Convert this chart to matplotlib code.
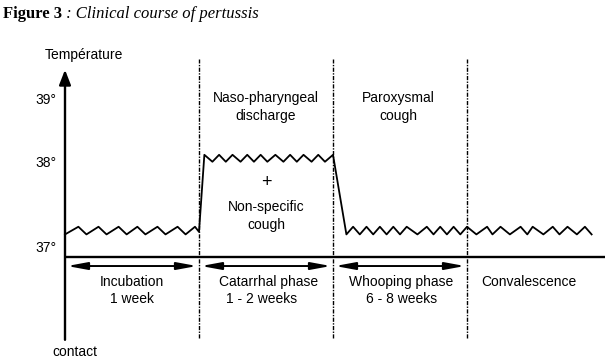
import numpy as np
import matplotlib.pyplot as plt

# Courbe de température (x : 1 unité = une phase, 0 = contact)
incub_x = [0.00, 0.10, 0.16, 0.25, 0.31, 0.40, 0.46, 0.54, 0.60, 0.69, 0.75, 0.84, 0.90, 0.97, 1.00]
incub_t = [37.16, 37.25, 37.16, 37.25, 37.16, 37.25, 37.16, 37.25, 37.16, 37.25, 37.16, 37.25, 37.16, 37.25, 37.19]

catarrh_x = [1.04, 1.10, 1.15, 1.20, 1.25, 1.31, 1.36, 1.41, 1.46, 1.51, 1.57, 1.63,
             1.68, 1.73, 1.78, 1.84, 1.89, 1.94, 2.00]
catarrh_t = [38.13, 38.02, 38.13, 38.02, 38.13, 38.02, 38.13, 38.02, 38.13, 38.02, 38.13, 38.02,
             38.13, 38.02, 38.13, 38.02, 38.13, 38.02, 38.13]

whoop_x = [2.10, 2.15, 2.20, 2.25, 2.30, 2.35, 2.40, 2.45, 2.50, 2.55, 2.63, 2.70, 2.75, 2.80,
           2.85, 2.90, 2.95, 3.00, 3.07, 3.15, 3.19, 3.25, 3.32, 3.40, 3.45, 3.49, 3.57, 3.64,
           3.69, 3.75, 3.82, 3.88, 3.93]
whoop_t = [37.16, 37.25] * 16 + [37.16]

# Phases
phase_bounds = [0, 1, 2, 3]
phase_names = ["Incubation", "Catarrhal phase", "Whooping phase", "Convalescence"]
phase_durations = ["1 week", "1 - 2 weeks", "6 - 8 weeks", ""]
phase_x = [0.50, 1.52, 2.51, 3.46]
duration_x = [0.50, 1.47, 2.51, 3.46]

temp_ticks = [37, 38, 39]
temp_labels = ["37°", "38°", "39°"]

# échelle verticale du schéma (pas tout à fait linéaire)
ref_t = [30, 37, 38, 39, 45]
ref_v = [-843, -248, -163, -100, 278]


def fwd(t):
    return np.interp(t, ref_t, ref_v)


def inv(v):
    return np.interp(v, ref_v, ref_t)


sans = ["Liberation Sans", "DejaVu Sans"]
serif = ["Liberation Serif", "DejaVu Serif"]
fs = 10

fig = plt.figure(figsize=(6.05, 3.6), dpi=100)
ax = fig.add_axes([0, 0, 1, 1])
ax.set_yscale("function", functions=(fwd, inv))
ax.set_xlim(-65 / 134, 540 / 134)
ax.set_ylim(inv(-360), inv(0))
ax.set_axis_off()

# axes
ax.annotate("", xy=(0, 39.48), xytext=(0, 35.92),
            arrowprops=dict(arrowstyle="-|>,head_length=0.9,head_width=0.35",
                            lw=1.7, color="k", shrinkA=0, shrinkB=0, mutation_scale=10))
ax.plot([0, 4.1], [36.894, 36.894], color="k", lw=1.7, solid_capstyle="butt")

# séparations des phases
for b in phase_bounds[1:]:
    ax.plot([b, b], [35.94, 39.65], color="k", lw=1.0, linestyle=(0, (3, 1, 1, 1)))

# flèches de durée
for a, b in zip(phase_bounds[:-1], phase_bounds[1:]):
    ax.annotate("", xy=(b, 36.788), xytext=(a, 36.788),
                arrowprops=dict(arrowstyle="<|-|>,head_length=1.2,head_width=0.22",
                                lw=1.4, color="k", shrinkA=1.5, shrinkB=1.5, mutation_scale=10))

# courbe
curve_x = incub_x + catarrh_x + whoop_x
curve_t = incub_t + catarrh_t + whoop_t
ax.plot(curve_x, curve_t, color="k", lw=1.3)

# textes
for t, lab in zip(temp_ticks, temp_labels):
    ax.text(-0.065, t, lab, ha="right", va="center", fontsize=fs, family=sans)
ax.text(0.14, 39.71, "Température", ha="center", va="center", fontsize=fs, family=sans)
ax.text(0.075, 35.78, "contact", ha="center", va="center", fontsize=fs, family=sans)

for x, name in zip(phase_x, phase_names):
    ax.text(x, 36.6, name, ha="center", va="center", fontsize=fs, family=sans)
for x, d in zip(duration_x, phase_durations):
    ax.text(x, 36.4, d, ha="center", va="center", fontsize=fs, family=sans)

ax.text(1.5, 39.03, "Naso-pharyngeal", ha="center", va="center", fontsize=fs, family=sans)
ax.text(1.5, 38.746, "discharge", ha="center", va="center", fontsize=fs, family=sans)
ax.text(1.5, 37.765, "+", ha="center", va="center", fontsize=13, family=sans)
ax.text(1.5, 37.482, "Non-specific", ha="center", va="center", fontsize=fs, family=sans)
ax.text(1.5, 37.27, "cough", ha="center", va="center", fontsize=fs, family=sans)
ax.text(2.49, 39.03, "Paroxysmal", ha="center", va="center", fontsize=fs, family=sans)
ax.text(2.49, 38.746, "cough", ha="center", va="center", fontsize=fs, family=sans)

# titre
t1 = fig.text(3 / 605, 1 - 14 / 360, "Figure 3", family=serif, fontweight="bold",
              fontsize=12, va="center")
ax.annotate(" : Clinical course of pertussis", xy=(1, 0), xycoords=t1, va="bottom",
            family=serif, fontstyle="italic", fontsize=12)

fig.savefig("out.png", dpi=100)
